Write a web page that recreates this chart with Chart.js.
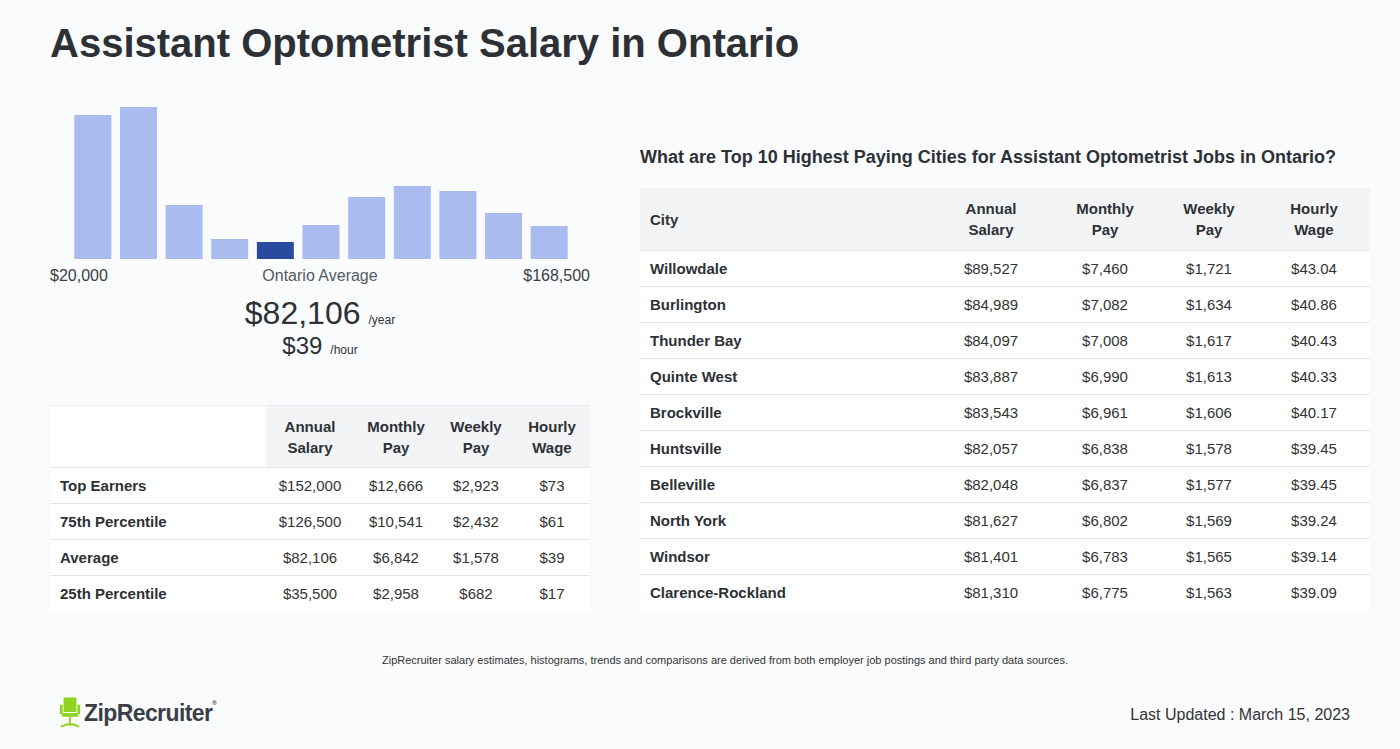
<!DOCTYPE html>
<html lang="en">
<head>
    <meta charset="UTF-8">
    <title>Assistant Optometrist Salary in Ontario</title>
    <script src="https://cdn.jsdelivr.net/npm/chart.js"></script>
    <style>
        html, body { margin: 0; padding: 0; }
        body { width: 1400px; height: 749px; background: #fafbfd; font-family: "Liberation Sans", Arial, sans-serif; color: #2d3136; position: relative; overflow: hidden; }
        h1 { position: absolute; left: 50px; top: 18px; margin: 0; font-size: 40px; font-weight: bold; line-height: 50px; }
        #histWrap { position: absolute; left: 50px; top: 100px; width: 540px; height: 160px; }
        .range { position: absolute; top: 265px; font-size: 16px; line-height: 22px; color: #3b3f45; }
        .big { position: absolute; left: 50px; width: 540px; text-align: center; }
        .big small { font-size: 12px; margin-left: 8px; }
        table { position: absolute; border-collapse: collapse; font-size: 15px; color: #333; background: #fff; }
        th { font-weight: bold; line-height: 21px; padding: 0; text-align: center; background: #f3f4f6; color: #2d3136; }
        td { height: 35px; padding: 0; text-align: center; border-top: 1px solid #e6e7ea; }
        td.lbl { text-align: left; padding-left: 10px; font-weight: bold; color: #2d3136; }
        #leftTable { left: 50px; top: 405px; width: 540px; }
        #leftTable th { height: 61px; border-top: 1px solid #eceef1; }
        #leftTable th.blank { background: #fff; }
        #rightTable { left: 640px; top: 188px; width: 730px; }
        #rightTable th { height: 62px; }
        #rightTable th.lbl { text-align: left; padding-left: 10px; }
        h2 { position: absolute; left: 640px; top: 145px; margin: 0; font-size: 18px; line-height: 24px; font-weight: bold; }
        #note { position: absolute; left: 0; width: 1450px; top: 654px; text-align: center; font-size: 11px; color: #333; }
        #updated { position: absolute; right: 50px; top: 706px; font-size: 16px; color: #333; }
        #logo { position: absolute; left: 59px; top: 695px; display: flex; align-items: center; }
        #logo span { font-size: 23px; font-weight: bold; color: #3b3f45; letter-spacing: -0.6px; margin-left: 3px; }
        #logo sup { font-size: 6px; vertical-align: top; }
    </style>
</head>
<body>
    <h1>Assistant Optometrist Salary in Ontario</h1>

    <div id="histWrap"><canvas id="hist"></canvas></div>
    <div class="range" style="left:50px">$20,000</div>
    <div class="range" style="left:50px;width:540px;text-align:center;color:#555a60">Ontario Average</div>
    <div class="range" style="right:810px">$168,500</div>
    <div class="big" style="top:293px;font-size:32px;line-height:40px">$82,106<small>/year</small></div>
    <div class="big" style="top:331px;font-size:24px;line-height:30px">$39<small>/hour</small></div>

    <table id="leftTable">
        <thead><tr>
            <th class="blank" style="width:216px"></th>
            <th style="width:88px">Annual<br>Salary</th>
            <th style="width:84px">Monthly<br>Pay</th>
            <th style="width:76px">Weekly<br>Pay</th>
            <th>Hourly<br>Wage</th>
        </tr></thead>
        <tbody id="leftBody"></tbody>
    </table>

    <h2>What are Top 10 Highest Paying Cities for Assistant Optometrist Jobs in Ontario?</h2>
    <table id="rightTable">
        <thead><tr>
            <th class="lbl">City</th>
            <th style="width:118px">Annual<br>Salary</th>
            <th style="width:110px">Monthly<br>Pay</th>
            <th style="width:98px">Weekly<br>Pay</th>
            <th style="width:112px">Hourly<br>Wage</th>
        </tr></thead>
        <tbody id="rightBody"></tbody>
    </table>

    <div id="note">ZipRecruiter salary estimates, histograms, trends and comparisons are derived from both employer job postings and third party data sources.</div>

    <div id="logo">
        <svg width="22" height="36" viewBox="0 0 24 36">
            <rect x="5" y="1" width="14" height="16" rx="1" fill="#8ed31f"/>
            <rect x="1" y="9" width="3" height="10" fill="#8ed31f"/>
            <rect x="20" y="9" width="3" height="10" fill="#8ed31f"/>
            <rect x="3" y="18" width="18" height="4" rx="1" fill="#8ed31f"/>
            <rect x="11" y="22" width="2" height="10" fill="#8ed31f"/>
            <path d="M2 33 Q12 27 22 33" stroke="#8ed31f" stroke-width="2" fill="none"/>
        </svg>
        <span>ZipRecruiter<sup>®</sup></span>
    </div>
    <div id="updated">Last Updated : March 15, 2023</div>

    <script>
    // histogram buckets and relative heights
    const bucketLabels = ['$20,000', '$33,500', '$47,000', '$60,500', '$74,000', '$87,500', '$101,000', '$114,500', '$128,000', '$141,500', '$155,000'];
    const bucketCounts = [144, 152, 54, 20, 17, 34, 62, 73, 68, 46, 33];
    const averageBucket = 4;

    // left summary table
    const summaryRows = ['Top Earners', '75th Percentile', 'Average', '25th Percentile'];
    const summaryAnnual = ['$152,000', '$126,500', '$82,106', '$35,500'];
    const summaryMonthly = ['$12,666', '$10,541', '$6,842', '$2,958'];
    const summaryWeekly = ['$2,923', '$2,432', '$1,578', '$682'];
    const summaryHourly = ['$73', '$61', '$39', '$17'];

    // top cities table
    const cities = ['Willowdale', 'Burlington', 'Thunder Bay', 'Quinte West', 'Brockville', 'Huntsville', 'Belleville', 'North York', 'Windsor', 'Clarence-Rockland'];
    const cityAnnual = ['$89,527', '$84,989', '$84,097', '$83,887', '$83,543', '$82,057', '$82,048', '$81,627', '$81,401', '$81,310'];
    const cityMonthly = ['$7,460', '$7,082', '$7,008', '$6,990', '$6,961', '$6,838', '$6,837', '$6,802', '$6,783', '$6,775'];
    const cityWeekly = ['$1,721', '$1,634', '$1,617', '$1,613', '$1,606', '$1,578', '$1,577', '$1,569', '$1,565', '$1,563'];
    const cityHourly = ['$43.04', '$40.86', '$40.43', '$40.33', '$40.17', '$39.45', '$39.45', '$39.24', '$39.14', '$39.09'];

    function fillTable(bodyId, labels, cols) {
        const body = document.getElementById(bodyId);
        labels.forEach((name, i) => {
            const row = document.createElement('tr');
            row.innerHTML = `<td class="lbl">${name}</td>` + cols.map(c => `<td>${c[i]}</td>`).join('');
            body.appendChild(row);
        });
    }
    fillTable('leftBody', summaryRows, [summaryAnnual, summaryMonthly, summaryWeekly, summaryHourly]);
    fillTable('rightBody', cities, [cityAnnual, cityMonthly, cityWeekly, cityHourly]);

    const ctx = document.getElementById('hist').getContext('2d');
    new Chart(ctx, {
        type: 'bar',
        data: {
            labels: bucketLabels,
            datasets: [{
                data: bucketCounts,
                backgroundColor: bucketCounts.map((v, i) => i === averageBucket ? '#284b9f' : '#a9bbef'),
                barPercentage: 0.81,
                categoryPercentage: 1
            }]
        },
        options: {
            responsive: true,
            maintainAspectRatio: false,
            animation: false,
            layout: { padding: { top: 7, bottom: 1, left: 20, right: 18 } },
            plugins: { legend: { display: false }, tooltip: { enabled: false } },
            scales: {
                x: { display: false },
                y: { display: false, min: 0, max: 152 }
            }
        }
    });
    </script>
</body>
</html>
